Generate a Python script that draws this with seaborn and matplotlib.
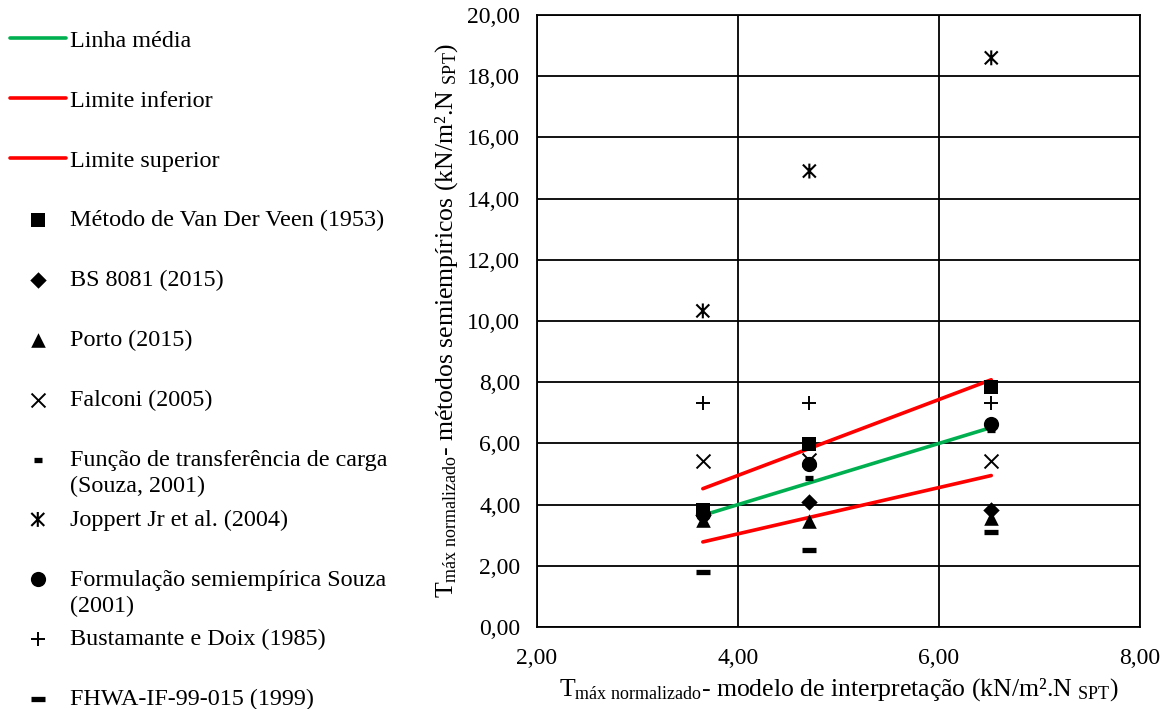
import numpy as np
import pandas as pd
import matplotlib
matplotlib.use("Agg")
import matplotlib.pyplot as plt
from matplotlib.path import Path
from matplotlib.ticker import FuncFormatter
import seaborn as sns

# Normalised maximum skin friction from the interpretation model (x)
x_model = [3.65, 4.71, 6.52]

# Values from each semi-empirical method at those three points
van_der_veen = [3.82, 5.98, 7.84]
bs_8081 = [3.66, 4.08, 3.82]
porto = [3.50, 3.46, 3.56]
falconi = [5.42, 5.45, 5.42]
funcao_transf = [3.55, 4.87, 6.44]
joppert = [10.33, 14.90, 18.60]
formulacao_souza = [3.70, 5.33, 6.63]
bustamante = [7.32, 7.32, 7.32]
fhwa = [1.80, 2.52, 3.10]

# Mean trend line and its lower / upper limits
trend_x = [3.65, 6.52]
linha_media = [3.65, 6.52]
limite_inferior = [2.78, 4.95]
limite_superior = [4.52, 8.08]

x_ticks = [2, 4, 6, 8]
y_ticks = [0, 2, 4, 6, 8, 10, 12, 14, 16, 18, 20]

sns.set_theme(style="white")
plt.rcParams["font.family"] = ["Liberation Serif", "DejaVu Serif"]
plt.rcParams["mathtext.fontset"] = "custom"
plt.rcParams["mathtext.rm"] = "Liberation Serif"
plt.rcParams["mathtext.it"] = "Liberation Serif:italic"
plt.rcParams["mathtext.bf"] = "Liberation Serif:bold"
plt.rcParams["text.color"] = "black"
plt.rcParams["axes.labelcolor"] = "black"

FS = 17
FS_LEGEND = 17.4
FS_LABEL = 18.5
GREEN = "#00B050"
RED = "#FF0000"

fig = plt.figure(figsize=(11.72, 7.09), dpi=100)
ax = fig.add_axes([537 / 1172, 82 / 709, 603 / 1172, 612 / 709])

# Asterisk made of an X with a vertical bar
asterisk = Path(
    [(-1, -1), (1, 1), (-1, 1), (1, -1), (0, -1.15), (0, 1.15)],
    [Path.MOVETO, Path.LINETO, Path.MOVETO, Path.LINETO, Path.MOVETO, Path.LINETO],
)

# Trend lines
for vals, col, lab in [
    (linha_media, GREEN, "Linha média"),
    (limite_inferior, RED, "Limite inferior"),
    (limite_superior, RED, "Limite superior"),
]:
    sns.lineplot(x=trend_x, y=vals, color=col, linewidth=2.6, ax=ax, label=lab,
                 zorder=3, estimator=None, sort=False)

# Method points: (values, marker, size s, edge width, filled, label)
series = [
    (van_der_veen, "s", 105, 0, True, "Método de Van Der Veen (1953)"),
    (bs_8081, "D", 70, 0, True, "BS 8081 (2015)"),
    (porto, "^", 110, 0, True, "Porto (2015)"),
    (falconi, "x", 100, 1.4, False, "Falconi (2005)"),
    (funcao_transf, "_", 40, 3.8, False, "Função de transferência de carga"),
    (joppert, asterisk, 115, 1.5, False, "Joppert Jr et al. (2004)"),
    (formulacao_souza, "o", 120, 0, True, "Formulação semiempírica Souza"),
    (bustamante, "+", 110, 1.4, False, "Bustamante e Doix (1985)"),
    (fhwa, "_", 110, 3.8, False, "FHWA-IF-99-015 (1999)"),
]
for vals, mk, s, lw, filled, lab in series:
    if filled:
        sns.scatterplot(x=x_model, y=vals, marker=mk, s=s, color="black",
                        edgecolor="black", linewidth=lw, ax=ax, label=lab, zorder=4)
    else:
        sns.scatterplot(x=x_model, y=vals, marker=mk, s=s, color="black",
                        edgecolor="black", facecolor="none" if mk is asterisk else "black",
                        linewidth=lw, ax=ax, label=lab, zorder=4)

ax.set_xlim(2, 8)
ax.set_ylim(0, 20)
ax.set_xticks(x_ticks)
ax.set_yticks(y_ticks)
fmt = FuncFormatter(lambda v, p: f"{v:.2f}".replace(".", ","))
ax.xaxis.set_major_formatter(fmt)
ax.yaxis.set_major_formatter(fmt)
ax.tick_params(axis="both", labelsize=FS, length=0, colors="black")
ax.tick_params(axis="x", pad=15)
ax.tick_params(axis="y", pad=12)
ax.grid(True, color="black", linewidth=1.3)
ax.set_axisbelow(True)
for sp in ax.spines.values():
    sp.set_visible(True)
    sp.set_color("black")
    sp.set_linewidth(1.3)

ax.set_xlabel(r"T$_{\mathrm{máx\ normalizado}}$- modelo de interpretação (kN/m².N $_{\mathrm{SPT}}$)",
              fontsize=FS_LABEL, labelpad=5)
ax.set_ylabel(r"T$_{\mathrm{máx\ normalizado}}$- métodos semiempíricos (kN/m².N $_{\mathrm{SPT}}$)",
              fontsize=FS_LABEL, labelpad=5)

handles, labels = ax.get_legend_handles_labels()
ax.get_legend().remove()
leg = fig.legend(handles, labels, loc="upper left", bbox_to_anchor=(10 / 1172, 1 - 30 / 709),
                 frameon=False, fontsize=FS_LEGEND, handlelength=2.3, handletextpad=0.17,
                 labelspacing=1.57, borderpad=0, borderaxespad=0, scatterpoints=1)

# Second lines of the two long legend labels, set 26 px under the first line
continuation = {
    "Função de transferência de carga": "(Souza, 2001)",
    "Formulação semiempírica Souza": "(2001)",
}
fig.canvas.draw()
for txt in leg.get_texts():
    extra = continuation.get(txt.get_text())
    if extra:
        px, py = txt.get_transform().transform(txt.get_position())
        fx, fy = fig.transFigure.inverted().transform((px, py - 26))
        fig.text(fx, fy, extra, fontsize=FS_LEGEND, ha="left", va="baseline")

fig.savefig("out.png", dpi=100)
